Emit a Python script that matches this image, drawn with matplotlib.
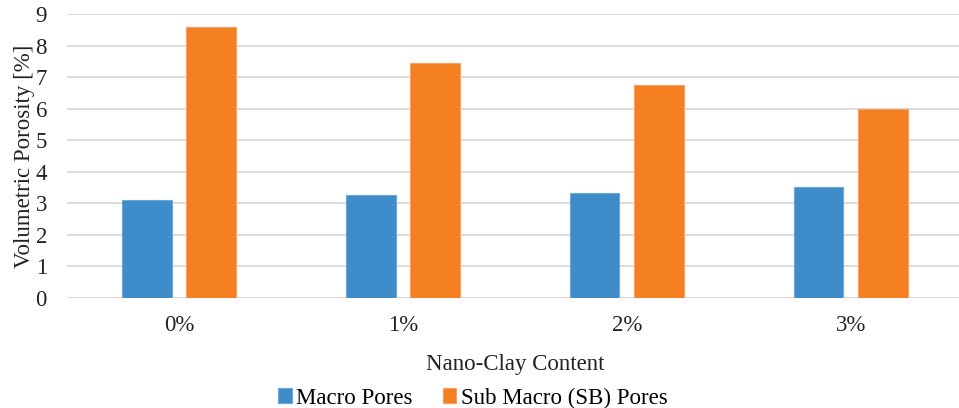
import matplotlib.pyplot as plt
import numpy as np

plt.rcParams['font.family'] = ['Liberation Serif', 'DejaVu Serif']

categories = ['0%', '1%', '2%', '3%']
macro_pores = [3.12, 3.26, 3.32, 3.53]
sub_macro_pores = [8.59, 7.44, 6.74, 6.00]

x = np.arange(len(categories))
width = 0.222
offset = 0.144

fig = plt.figure(figsize=(9.59, 4.08), dpi=100)
ax = fig.add_axes([0.0699, 0.2696, 0.934, 0.696])

ax.bar(x - offset, macro_pores, width, color='#3f8ccb', edgecolor='#6aa8dc',
       linewidth=0.8, label='Macro Pores', zorder=3)
ax.bar(x + offset, sub_macro_pores, width, color='#f47f20', edgecolor='#f7a064',
       linewidth=0.8, label='Sub Macro (SB) Pores', zorder=3)

ax.set_xlim(-0.5, 3.5)
ax.set_ylim(0, 9)
ax.set_yticks(range(0, 10))
ax.set_xticks(x)
ax.set_xticklabels(categories)
ax.tick_params(axis='both', length=0, labelsize=16.5, colors='#222222')
ax.tick_params(axis='x', pad=12)
ax.tick_params(axis='y', pad=14.5)
ax.grid(axis='y', color='#d9d9d9', linewidth=1.3, zorder=0)
for s in ax.spines.values():
    s.set_visible(False)

ax.set_xlabel('Nano-Clay Content', fontsize=16.5, color='#222222', labelpad=13)
ax.set_ylabel('Volumetric Porosity [%]', fontsize=16.5, color='#222222', labelpad=0)

fig.legend(loc='lower center', bbox_to_anchor=(0.493, -0.052), ncol=2, frameon=False,
           fontsize=16.5, handlelength=0.6, handleheight=0.6, handletextpad=0.2,
           columnspacing=1.3)

fig.savefig('out.png', dpi=100)
